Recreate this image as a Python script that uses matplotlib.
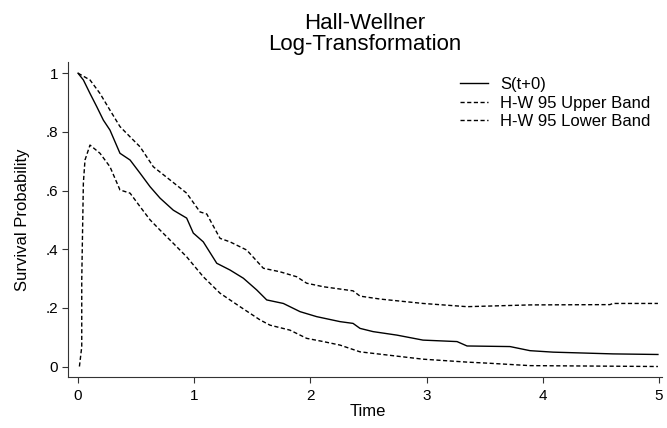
import numpy as np
import matplotlib
matplotlib.use('Agg')
import matplotlib.pyplot as plt

# survival estimate S(t+0)
t_s = [0.0, 0.046, 0.103, 0.161, 0.218, 0.275, 0.361, 0.448, 0.534, 0.620,
       0.706, 0.820, 0.935, 0.992, 1.078, 1.194, 1.308, 1.423, 1.538, 1.624,
       1.767, 1.911, 2.054, 2.255, 2.367, 2.427, 2.539, 2.745, 2.969, 3.262,
       3.348, 3.718, 3.890, 4.088, 4.604, 4.991]
s_s = [1.0, 0.977, 0.931, 0.886, 0.840, 0.806, 0.727, 0.704, 0.659, 0.613,
       0.574, 0.533, 0.506, 0.455, 0.425, 0.352, 0.329, 0.301, 0.261, 0.227,
       0.215, 0.187, 0.170, 0.153, 0.147, 0.130, 0.119, 0.107, 0.090, 0.085,
       0.070, 0.068, 0.054, 0.049, 0.043, 0.041]

# Hall-Wellner upper band
t_up = [0.0, 0.103, 0.189, 0.275, 0.361, 0.448, 0.534, 0.648, 0.792, 0.935,
        1.050, 1.108, 1.222, 1.308, 1.452, 1.595, 1.738, 1.882, 1.968, 2.111,
        2.367, 2.427, 2.599, 2.969, 3.348, 3.890, 4.578, 4.604, 4.991]
s_up = [1.0, 0.977, 0.931, 0.874, 0.818, 0.783, 0.749, 0.681, 0.636, 0.591,
        0.527, 0.520, 0.437, 0.425, 0.397, 0.335, 0.323, 0.306, 0.284, 0.272,
        0.258, 0.240, 0.230, 0.215, 0.204, 0.210, 0.211, 0.215, 0.215]

# Hall-Wellner lower band
t_lo = [0.012, 0.032, 0.032, 0.046, 0.060, 0.103, 0.189, 0.275, 0.361, 0.448,
        0.534, 0.620, 0.706, 0.820, 0.935, 1.078, 1.222, 1.394, 1.566, 1.652,
        1.824, 1.968, 2.111, 2.255, 2.427, 2.969, 3.348, 3.546, 3.890, 4.991]
s_lo = [0.0, 0.067, 0.295, 0.626, 0.704, 0.755, 0.727, 0.681, 0.602, 0.591,
        0.545, 0.500, 0.465, 0.420, 0.374, 0.306, 0.250, 0.204, 0.159, 0.141,
        0.124, 0.096, 0.085, 0.073, 0.050, 0.025, 0.015, 0.011, 0.003, 0.0]

xticks = [0, 1, 2, 3, 4, 5]
yticks = [0, 0.2, 0.4, 0.6, 0.8, 1]
ylabels = ['0', '.2', '.4', '.6', '.8', '1']

plt.rcParams['font.family'] = ['Liberation Sans', 'DejaVu Sans']

fig = plt.figure(figsize=(6.67, 4.28), dpi=100)
ax = fig.add_axes([0.102, 0.119, 0.8905, 0.736])

ax.plot(t_s, s_s, color='black', lw=1.0, label='S(t+0)')
ax.plot(t_up, s_up, color='black', lw=1.0, dashes=(3, 1.8),
        label='H-W 95 Upper Band')
ax.plot(t_lo, s_lo, color='black', lw=1.0, dashes=(3, 1.8),
        label='H-W 95 Lower Band')

ax.set_xlim(-0.086, 5.026)
ax.set_ylim(-0.036, 1.038)
ax.set_xticks(xticks)
ax.set_xticklabels([str(v) for v in xticks])
ax.set_yticks(yticks)
ax.set_yticklabels(ylabels)
ax.tick_params(direction='out', length=4.3, width=0.8, labelsize=11,
               color='#333333')
ax.tick_params(axis='y', pad=3)
ax.tick_params(axis='x', pad=4.5)
for side in ['top', 'right']:
    ax.spines[side].set_visible(False)
for side in ['left', 'bottom']:
    ax.spines[side].set_color('#333333')
    ax.spines[side].set_linewidth(0.8)

ax.set_title('Hall-Wellner\nLog-Transformation', fontsize=16,
             linespacing=1.0, pad=8.6)
ax.set_xlabel('Time', fontsize=12, va='center')
ax.xaxis.set_label_coords(0.505, -0.108)
ax.set_ylabel('Survival Probability', fontsize=12, va='center')
ax.yaxis.set_label_coords(-0.0775, 0.5)

ax.legend(loc='upper left', bbox_to_anchor=(460 / 667, 1 - 77 / 428),
          bbox_transform=fig.transFigure, frameon=False, fontsize=12,
          handlelength=1.68, handletextpad=0.72, labelspacing=0.22,
          borderpad=0, borderaxespad=0)

plt.savefig('out.png', dpi=100)
